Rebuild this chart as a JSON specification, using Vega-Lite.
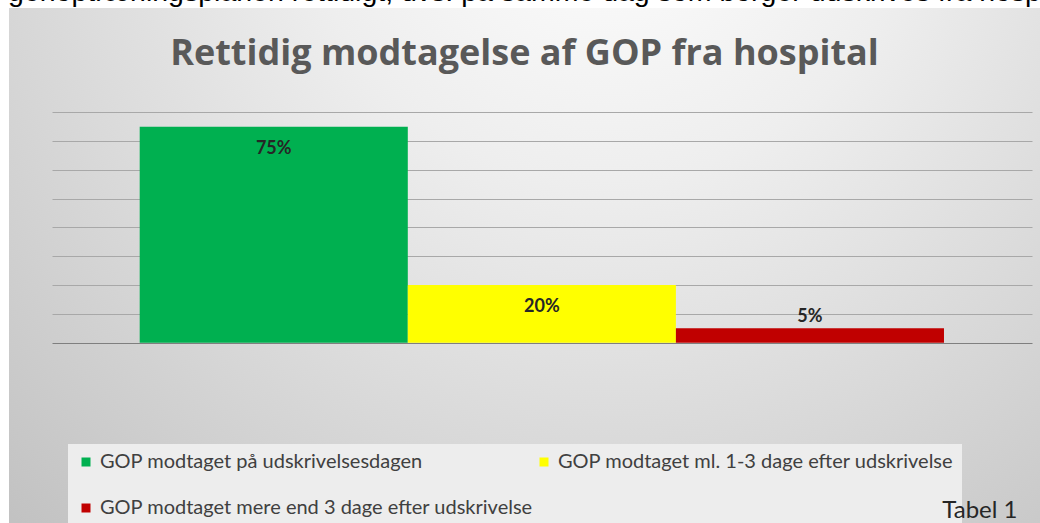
{
  "$schema": "https://vega.github.io/schema/vega-lite/v6.json",
  "autosize": {"type": "none"},
  "padding": {"left": 9, "top": 8, "right": 0, "bottom": 0},
  "width": 1031,
  "height": 515,
  "background": "#ffffff",
  "view": {
    "stroke": null,
    "fill": {
      "gradient": "radial",
      "x1": 0.58, "y1": 0.12, "r1": 0,
      "x2": 0.58, "y2": 0.12, "r2": 0.85,
      "stops": [
        {"offset": 0, "color": "#ffffff"},
        {"offset": 0.35, "color": "#eeeeee"},
        {"offset": 1, "color": "#c2c2c2"}
      ]
    }
  },
  "title": {
    "text": "genoptræningsplanen rettidigt, dvs. på samme dag som borger udskrives fra hosp",
    "subtitle": "Rettidig modtagelse af GOP fra hospital",
    "anchor": "middle",
    "frame": "group",
    "font": "Liberation Sans",
    "fontSize": 28.5,
    "fontWeight": "normal",
    "color": "#000000",
    "subtitleFont": "Open Sans",
    "subtitleFontSize": 36,
    "subtitleFontWeight": "bold",
    "subtitleColor": "#595959",
    "subtitlePadding": 31,
    "offset": -64
  },
  "data": {
    "values": [
      {"kategori": "GOP modtaget på udskrivelsesdagen", "andel": 0.75},
      {"kategori": "GOP modtaget ml. 1-3 dage efter udskrivelse", "andel": 0.20},
      {"kategori": "GOP modtaget mere end 3 dage efter udskrivelse", "andel": 0.05}
    ]
  },
  "encoding": {
    "x": {
      "field": "kategori",
      "type": "nominal",
      "sort": null,
      "scale": {"paddingInner": 0, "paddingOuter": 0.4228, "align": 0.5765},
      "axis": {
        "title": "Tabel 1",
        "zindex": 2,
        "labels": false,
        "ticks": false,
        "domain": false,
        "grid": false,
        "titleFont": "Lato",
        "titleFontSize": 24,
        "titleFontWeight": "normal",
        "titleColor": "#262626",
        "titleAnchor": "end",
        "titleAlign": "right",
        "titleBaseline": "alphabetic",
        "titleX": 1008,
        "titleY": -6
      }
    },
    "y": {
      "field": "andel",
      "type": "quantitative",
      "scale": {"domain": [-0.626, 1.162], "nice": false, "zero": false},
      "axis": {
        "title": null,
        "values": [0, 0.1, 0.2, 0.3, 0.4, 0.5, 0.6, 0.7, 0.8],
        "labels": false,
        "ticks": false,
        "domain": false,
        "grid": true,
        "gridDash": [0, 43, 980, 200],
        "gridWidth": 1,
        "gridColor": {"expr": "datum.value === 0 ? '#7f7f7f' : '#a8a8a8'"}
      }
    }
  },
  "layer": [
    {
      "mark": {"type": "bar"},
      "encoding": {
        "y2": {"datum": 0},
        "color": {
          "field": "kategori",
          "type": "nominal",
          "sort": null,
          "scale": {
            "domain": [
              "GOP modtaget på udskrivelsesdagen",
              "GOP modtaget ml. 1-3 dage efter udskrivelse",
              "GOP modtaget mere end 3 dage efter udskrivelse"
            ],
            "range": ["#00b050", "#ffff00", "#c00000"]
          },
          "legend": {
            "title": null,
            "orient": "none",
            "legendX": 59,
            "legendY": 436,
            "zindex": 0,
            "columns": 2,
            "direction": "horizontal",
            "gridAlign": "all",
            "symbolType": "square",
            "symbolSize": 81,
            "symbolStrokeWidth": 0,
            "labelFont": "Lato",
            "labelFontSize": 20,
            "labelColor": "#404040",
            "labelLimit": 700,
            "labelOffset": 4,
            "labelExpr": "datum.value === 'GOP modtaget ml. 1-3 dage efter udskrivelse' ? datum.label + '      ' : datum.label",
            "rowPadding": 26,
            "columnPadding": 0,
            "padding": 8,
            "fillColor": "#ededed",
            "strokeColor": null
          }
        }
      }
    },
    {
      "transform": [{"filter": "datum.andel >= 0.1"}],
      "mark": {"type": "text", "baseline": "middle", "dy": 22, "font": "Lato", "fontSize": 18, "fontWeight": "bold", "color": "#262626"},
      "encoding": {"text": {"field": "andel", "type": "quantitative", "format": ".0%"}}
    },
    {
      "transform": [{"filter": "datum.andel < 0.1"}],
      "mark": {"type": "text", "baseline": "middle", "dy": -11, "font": "Lato", "fontSize": 18, "fontWeight": "bold", "color": "#262626"},
      "encoding": {"text": {"field": "andel", "type": "quantitative", "format": ".0%"}}
    }
  ]
}
